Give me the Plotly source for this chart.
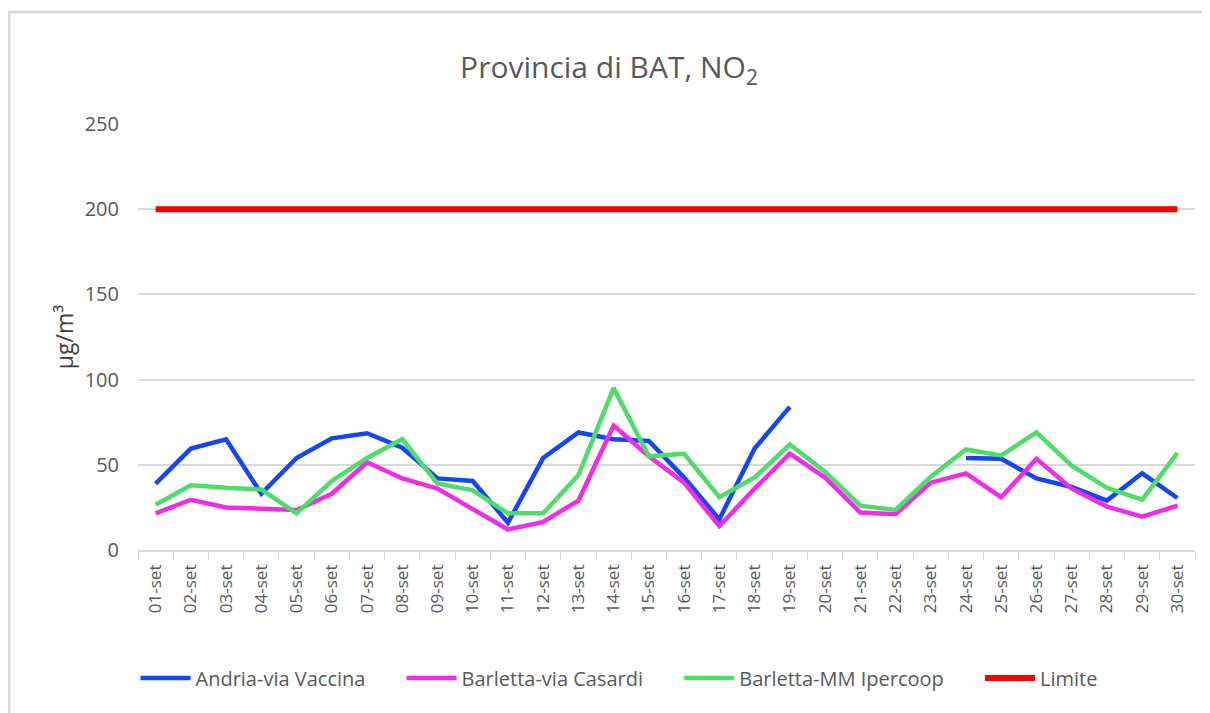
import plotly.graph_objects as go

days = [f"{d:02d}-set" for d in range(1, 31)]

andria = [39, 59.5, 65, 33, 54, 65.5, 68.5, 60, 42, 40.5,
          16, 54, 69, 65, 64, 42.5, 18, 59.5, 84, None,
          None, None, None, 54, 53.5, 42, 37, 29, 45, 30.5]
casardi = [21.5, 29.5, 25, 24, 23.5, 33, 51.5, 42, 36, 24,
           12, 16.5, 29, 73, 55, 39.5, 14, 36, 56.5, 42.5,
           22, 21, 39.5, 45, 31, 53.5, 36, 25.5, 19.5, 26]
ipercoop = [26.5, 38, 36.5, 35.5, 21.5, 40.5, 54, 65, 39, 35,
            21.5, 21.5, 44, 95, 55, 56.5, 31, 42.5, 62, 46,
            26, 23.5, 43, 59, 55.5, 69, 49.5, 36.5, 29.5, 57]
limite = [200] * 30

names = ["Andria-via Vaccina", "Barletta-via Casardi", "Barletta-MM Ipercoop", "Limite"]
values = [andria, casardi, ipercoop, limite]
colors = ["#1446F5", "#F02CE6", "#50DC6A", "#FF0000"]
widths = [4.5, 4.5, 4.5, 6]

FONT = "Open Sans, sans-serif"
GREY = "#595959"

W, H = 1202, 705
L, R, T, B = 130, 15, 116, 163
PW = W - L - R
PH = H - T - B

PAD = "\u00a0" * 6

fig = go.Figure()
for i, (name, vals, color, w) in enumerate(zip(names, values, colors, widths)):
    label = name + (PAD if i < len(names) - 1 else "")
    fig.add_trace(go.Scatter(x=days, y=vals, name=label, mode="lines",
                             line=dict(color=color, width=w),
                             connectgaps=False))

fig.update_layout(
    width=W, height=H,
    margin=dict(l=L, r=R, t=T, b=B, autoexpand=False),
    paper_bgcolor="white", plot_bgcolor="white",
    font=dict(family=FONT, color=GREY, size=16),
    title=dict(text="Provincia di BAT, NO<sub>2</sub>", x=0.5, xanchor="center",
               y=0.915, yanchor="middle", font=dict(size=30, color=GREY, family=FONT)),
    showlegend=True,
    legend=dict(orientation="h", x=(611 - L) / PW, xanchor="center",
                y=(PH - (670 - T)) / PH, yanchor="middle",
                font=dict(size=20, color=GREY, family=FONT), itemwidth=50,
                tracegroupgap=0),
    shapes=[
        dict(type="line", xref="paper", yref="paper",
             x0=0 - L / PW, x1=1 + R / PW,
             y0=1 + (T - 4) / PH, y1=1 + (T - 4) / PH,
             line=dict(color="#d9d9d9", width=3)),
        dict(type="line", xref="paper", yref="paper",
             x0=-(L - 1) / PW, x1=-(L - 1) / PW,
             y0=1 + (T - 4) / PH, y1=-B / PH,
             line=dict(color="#d9d9d9", width=3)),
    ],
)
fig.update_xaxes(
    type="category", range=[-0.5, 29.5], tickangle=-90, showgrid=False,
    showline=True, linecolor="#d9d9d9", linewidth=1.5,
    ticks="outside", tickson="boundaries", ticklen=8, tickcolor="#d9d9d9",
    ticklabelstandoff=6,
    tickfont=dict(size=17, color=GREY, family=FONT),
)
fig.update_yaxes(
    range=[0, 250], dtick=50, showgrid=True, gridcolor="#d9d9d9", gridwidth=1.5,
    zeroline=False, showline=False, ticklabelstandoff=18,
    tickfont=dict(size=20, color=GREY, family=FONT),
    title=dict(text="µg/m³", font=dict(size=23, color="#404040", family=FONT), standoff=4),
)

fig.write_html("out.html")
